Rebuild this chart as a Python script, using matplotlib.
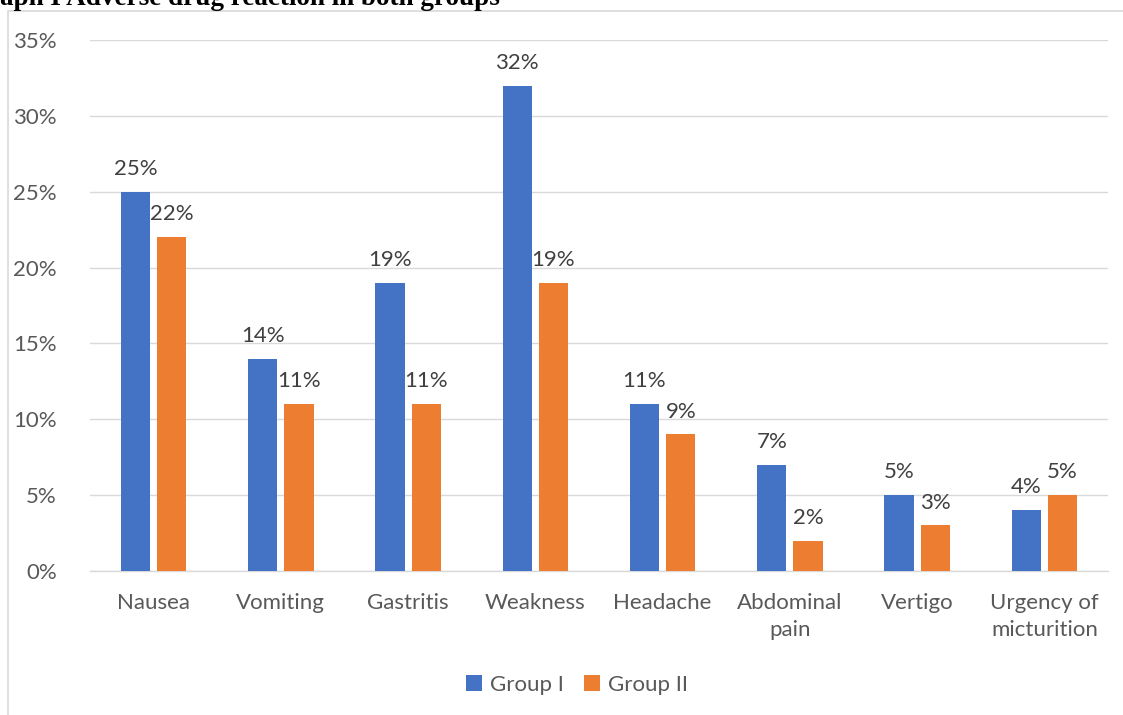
import matplotlib
matplotlib.use("Agg")
import matplotlib.pyplot as plt
from matplotlib.patches import Rectangle
import numpy as np

categories = ["Nausea", "Vomiting", "Gastritis", "Weakness", "Headache",
              "Abdominal\npain", "Vertigo", "Urgency of\nmicturition"]
group1 = [25, 14, 19, 32, 11, 7, 5, 4]
group2 = [22, 11, 11, 19, 9, 2, 3, 5]
series_names = ["Group I", "Group II"]
yticks = [0, 5, 10, 15, 20, 25, 30, 35]

plt.rcParams['font.family'] = ['Lato', 'DejaVu Sans']
txt = '#595959'
fs = 16

fig = plt.figure(figsize=(11.23, 7.15), dpi=100)
ax = fig.add_axes([90/1123, 1-571/715, 1018/1123, 531/715])

x = np.arange(len(categories))
w = 0.23
gap = 0.055
off = (w + gap) / 2
b1 = ax.bar(x - off, group1, w, color='#4472C4', label=series_names[0], zorder=3)
b2 = ax.bar(x + off, group2, w, color='#ED7D31', label=series_names[1], zorder=3)
for bars, vals in ((b1, group1), (b2, group2)):
    for r, v in zip(bars, vals):
        ax.text(r.get_x() + r.get_width()/2, v + 0.85, f"{v}%", ha='center', va='bottom',
                fontsize=fs, color='#404040')

ax.set_xlim(-0.5, len(categories) - 0.5)
ax.set_ylim(0, 35)
ax.set_yticks(yticks)
ax.set_yticklabels([f"{t}%" for t in yticks], fontsize=fs, color=txt)
ax.set_xticks(x)
ax.set_xticklabels(categories, fontsize=fs, color=txt, linespacing=1.45)
ax.tick_params(axis='both', length=0)
ax.tick_params(axis='x', pad=16)
ax.tick_params(axis='y', pad=24)
ax.grid(axis='y', color='#d9d9d9', linewidth=1, zorder=0)
for s in ['top', 'right', 'left']:
    ax.spines[s].set_visible(False)
ax.spines['bottom'].set_color('#d9d9d9')
ax.spines['bottom'].set_linewidth(1)

leg = fig.legend(loc='center', bbox_to_anchor=(577/1123, 1-685/715), ncol=2, frameon=False,
                 fontsize=fs, handlelength=0.7, handleheight=0.7, handletextpad=0.35,
                 columnspacing=0.95)
for t in leg.get_texts():
    t.set_color(txt)

fig.patches.append(Rectangle((8/1123, -0.1), 1.2, 1 - 11/715 + 0.1, transform=fig.transFigure,
                             fill=False, edgecolor='#d9d9d9', linewidth=1.2))
fig.text(0, 1 - 5/715, "aph I Adverse drug reaction in both groups", fontsize=19.5,
         fontweight='bold', family='Liberation Serif', ha='left', va='baseline', color='black')

fig.savefig('out.png', dpi=100)
